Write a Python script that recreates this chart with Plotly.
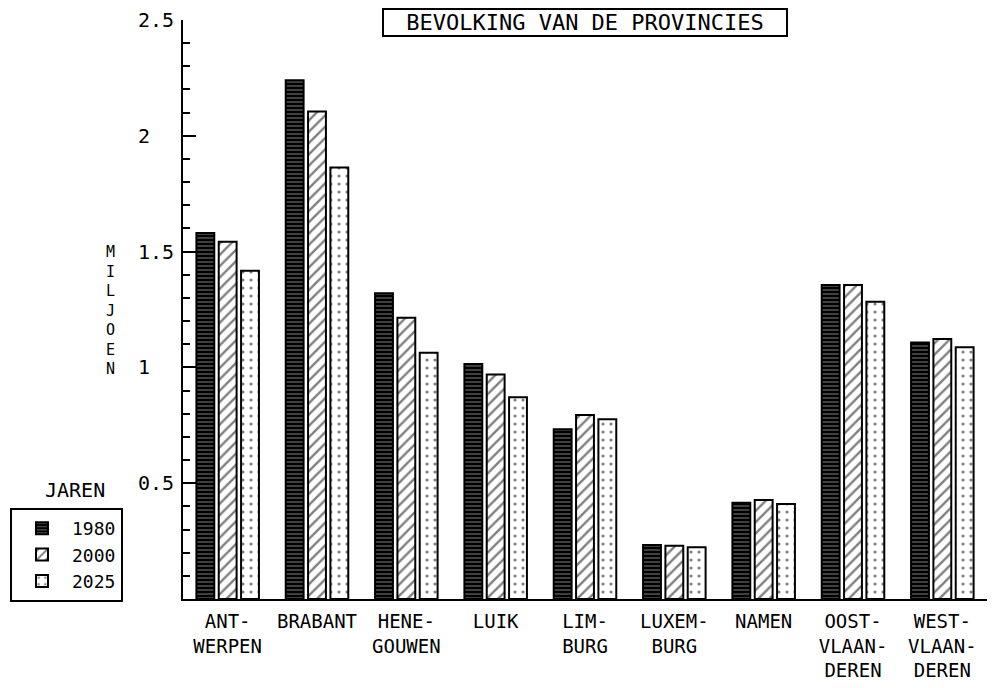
import plotly.graph_objects as go

provinces = ["ANT-<br>WERPEN", "BRABANT", "HENE-<br>GOUWEN", "LUIK", "LIM-<br>BURG",
             "LUXEM-<br>BURG", "NAMEN", "OOST-<br>VLAAN-<br>DEREN", "WEST-<br>VLAAN-<br>DEREN"]
years = ["1980", "2000", "2025"]
pop_1980 = [1.58, 2.24, 1.32, 1.015, 0.733, 0.233, 0.416, 1.356, 1.107]
pop_2000 = [1.543, 2.105, 1.214, 0.969, 0.795, 0.230, 0.428, 1.356, 1.123]
pop_2025 = [1.417, 1.863, 1.063, 0.871, 0.776, 0.223, 0.410, 1.284, 1.087]
y_tick_vals = [0.5, 1, 1.5, 2, 2.5]
y_tick_text = ["0.5", "1", "1.5", "2", "2.5"]

FONT = "DejaVu Sans Mono"

# page body has an 8px default margin: size the figure to fit the window
W, H = 989, 680

patterns = [
    dict(shape="-", fgcolor="white", bgcolor="black", size=4, solidity=0.25),
    dict(shape="/", fgcolor="black", bgcolor="white", size=8, solidity=0.3),
    dict(shape=".", fgcolor="black", bgcolor="white", size=8, solidity=0.12),
]

fig = go.Figure()
for name, vals, pat in zip(years, [pop_1980, pop_2000, pop_2025], patterns):
    fig.add_trace(go.Bar(
        x=provinces, y=vals, name=name,
        marker=dict(color=pat["bgcolor"], pattern=pat, line=dict(color="black", width=2)),
    ))

fig.update_layout(
    width=W, height=H,
    margin=dict(l=175, r=10, t=12, b=89, autoexpand=False),
    paper_bgcolor="white", plot_bgcolor="white",
    barmode="group", bargap=0.25, bargroupgap=0.2,
    font=dict(family=FONT, color="black", size=19),
    showlegend=True,
    legend=dict(xref="container", x=2 / W, xanchor="left",
                yref="container", y=(H - 500) / H, yanchor="top",
                bgcolor="white", bordercolor="black", borderwidth=2,
                itemwidth=50,
                font=dict(family=FONT, size=18), traceorder="normal"),
)

fig.update_xaxes(
    showline=True, linecolor="black", linewidth=2, ticks="",
    showgrid=False, zeroline=False, range=[-0.5, 8.5], automargin=False,
    tickfont=dict(family=FONT, size=19), ticklabelstandoff=4,
)
fig.update_yaxes(
    range=[0, 2.5], showline=True, linecolor="black", linewidth=2,
    showgrid=False, zeroline=False, automargin=False,
    tickmode="array", tickvals=y_tick_vals, ticks="inside", ticklen=13,
    tickwidth=2, tickcolor="black", showticklabels=False,
    minor=dict(dtick=0.1, tick0=0, ticks="inside", ticklen=7, tickwidth=2, tickcolor="black"),
)

for v, t in zip(y_tick_vals, y_tick_text):
    fig.add_annotation(x=-0.0585, xref="paper", xanchor="left", y=v, yref="y",
                       yanchor="middle",
                       text=t, showarrow=False, font=dict(family=FONT, size=20))

fig.add_annotation(x=0.5, xref="paper", xanchor="center", y=0.9965, yref="paper",
                   yanchor="middle",
                   text="BEVOLKING VAN DE PROVINCIES", showarrow=False,
                   font=dict(family=FONT, size=22), bordercolor="black", borderwidth=2,
                   borderpad=1, width=400, height=23, bgcolor="white")

fig.add_annotation(x=-0.0896, xref="paper", xanchor="center", y=0.499, yref="paper",
                   yanchor="middle",
                   text="<br>".join(list("MILJOEN")), showarrow=False,
                   font=dict(family=FONT, size=15))

fig.add_annotation(x=-0.134, xref="paper", xanchor="center", y=0.188, yref="paper",
                   yanchor="middle",
                   text="JAREN", showarrow=False, font=dict(family=FONT, size=20))

fig.write_html("out.html")
